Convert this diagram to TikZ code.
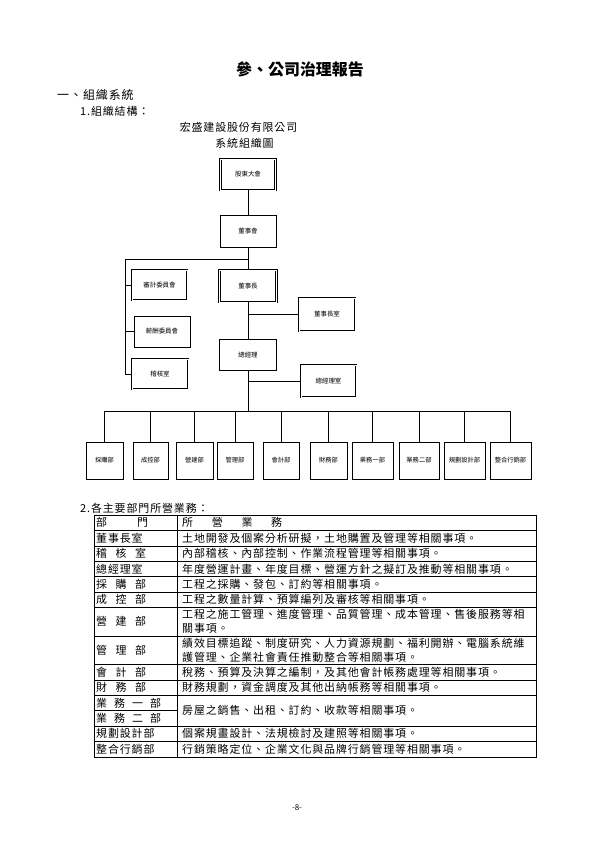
\documentclass[tikz,border=0pt]{standalone}
\usepackage{fontspec}
\setmainfont{Noto Sans CJK TC}
\newfontfamily\cellfont[LetterSpace=8]{Noto Sans CJK TC}
\begin{document}
\begin{tikzpicture}[x=1bp,y=-1bp,
  orgbox/.style={draw,line width=0.8pt,minimum height=31bp,inner sep=0pt,font=\fontsize{6.5}{7}\selectfont},
  dblbox/.style={orgbox,double,double distance=0.6pt,line width=0.75pt},
  unitbox/.style={draw,line width=0.7pt,minimum height=37bp,inner sep=0pt,font=\fontsize{6.3}{7}\selectfont},
  wire/.style={line width=0.7pt},
  txt/.style={inner sep=0pt,anchor=west,font=\cellfont\fontsize{11}{12}\selectfont},
  cell/.style={inner sep=0pt,anchor=west,font=\cellfont\fontsize{11}{12}\selectfont},
  tline/.style={line width=0.6pt}]
\path[use as bounding box,fill=white] (0,0) rectangle (595,842);

% headings
\node[inner sep=0pt,font=\bfseries\fontsize{16}{18}\selectfont] (title) at (300,69) {參、公司治理報告};
\node[txt,font=\cellfont\fontsize{12}{13}\selectfont] (h1) at (57,95) {一、組織系統};
\node[txt] (h2) at (80,111) {1.組織結構：};
\node[txt,anchor=center] (h3) at (238.5,127) {宏盛建設股份有限公司};
\node[txt,anchor=center] (h4) at (244.5,143) {系統組織圖};

% upper org chart
\node[dblbox,minimum width=55bp] (gd) at (248,174.5) {股東大會};
\node[orgbox,minimum width=56bp,minimum height=32bp] (bd) at (248,231) {董事會};
\node[dblbox,minimum width=55bp,minimum height=30bp] (ac) at (159.5,285) {審計委員會};
\node[orgbox,minimum width=56bp] (cc) at (162,331.5) {薪酬委員會};
\node[dblbox,minimum width=56bp,minimum height=30bp] (ia) at (160,374) {稽核室};
\node[dblbox,minimum width=57bp,minimum height=32bp] (ch) at (248,286) {董事長};
\node[dblbox,minimum width=56bp,minimum height=33bp] (cho) at (327,314.5) {董事長室};
\node[orgbox,minimum width=57bp] (gm) at (248,354.5) {總經理};
\node[dblbox,minimum width=55bp,minimum height=32bp] (gmo) at (328.5,381) {總經理室};

\coordinate (lt) at (248,259);
\coordinate (lb) at (125,259);
\coordinate (bus) at (248,411);

\draw[wire] (gd) -- (bd);
\draw[wire] (bd) -- (ch);
\draw[wire] (lt) -- (lb) |- (ia.west);
\draw[wire] (lb |- ac.west) -- (ac.west);
\draw[wire] (lb |- cc.west) -- (cc.west);
\draw[wire] (ch) -- (gm);
\draw[wire] (ch.south |- cho.west) -- (cho.west);
\draw[wire] (gm) -- (bus);
\draw[wire] (gm.south |- gmo.west) -- (gmo.west);

% lower units
\node[unitbox,minimum width=37bp] (u1) at (104.5,460.5) {採購部};
\node[unitbox,minimum width=35bp] (u2) at (150.5,460.5) {成控部};
\node[unitbox,minimum width=37bp] (u3) at (194.5,460.5) {營建部};
\node[unitbox,minimum width=36bp] (u4) at (235,460.5) {管理部};
\node[unitbox,minimum width=36bp] (u5) at (281,460.5) {會計部};
\node[unitbox,minimum width=37bp] (u6) at (328.5,460.5) {財務部};
\node[unitbox,minimum width=41bp] (u7) at (372.5,460.5) {業務一部};
\node[unitbox,minimum width=40bp] (u8) at (419,460.5) {業務二部};
\node[unitbox,minimum width=41bp] (u9) at (464.5,460.5) {規劃設計部};
\node[unitbox,minimum width=41bp] (u10) at (510.5,460.5) {整合行銷部};

\draw[wire] (u1.north |- bus) -- (u10.north |- bus);
\foreach \i in {1,...,10} \draw[wire] (u\i.north |- bus) -- (u\i.north);

% table
\node[txt] (h5) at (80,508) {2.各主要部門所營業務：};
\draw[tline] (94,515) rectangle (536,756.8);
\draw[tline] (177,515) -- (177,756.8);
\foreach \y in {530.4,545.8,561.2,576.6,592,607.4,635.9,664.4,679.8,695.2,726,741.4}
  \draw[tline] (94,\y) -- (536,\y);
\draw[tline] (94,710.6) -- (177,710.6);

\node[cell] (c0) at (96,522.7) {\makebox[52bp][s]{部\hfill 門}};
\node[cell] (d0) at (182,522.7) {\makebox[100bp][s]{所\hfill 營\hfill 業\hfill 務}};

\node[cell] (c1) at (96,538.1) {董事長室};
\node[cell] (d1) at (182,538.1) {土地開發及個案分析研擬，土地購置及管理等相關事項。};
\node[cell] (c2) at (96,553.5) {\makebox[50bp][s]{稽\hfill 核\hfill 室}};
\node[cell] (d2) at (182,553.5) {內部稽核、內部控制、作業流程管理等相關事項。};
\node[cell] (c3) at (96,568.9) {總經理室};
\node[cell] (d3) at (182,568.9) {年度營運計畫、年度目標、營運方針之擬訂及推動等相關事項。};
\node[cell] (c4) at (96,584.3) {\makebox[50bp][s]{採\hfill 購\hfill 部}};
\node[cell] (d4) at (182,584.3) {工程之採購、發包、訂約等相關事項。};
\node[cell] (c5) at (96,599.7) {\makebox[50bp][s]{成\hfill 控\hfill 部}};
\node[cell] (d5) at (182,599.7) {工程之數量計算、預算編列及審核等相關事項。};
\node[cell] (c6) at (96,621.6) {\makebox[50bp][s]{營\hfill 建\hfill 部}};
\node[cell] (d6a) at (182,614.5) {工程之施工管理、進度管理、品質管理、成本管理、售後服務等相};
\node[cell] (d6b) at (182,628.6) {關事項。};
\node[cell] (c7) at (96,650.1) {\makebox[50bp][s]{管\hfill 理\hfill 部}};
\node[cell] (d7a) at (182,643) {績效目標追蹤、制度研究、人力資源規劃、福利開辦、電腦系統維};
\node[cell] (d7b) at (182,657.2) {護管理、企業社會責任推動整合等相關事項。};
\node[cell] (c8) at (96,672.1) {\makebox[50bp][s]{會\hfill 計\hfill 部}};
\node[cell] (d8) at (182,672.1) {稅務、預算及決算之編制，及其他會計帳務處理等相關事項。};
\node[cell] (c9) at (96,687.5) {\makebox[50bp][s]{財\hfill 務\hfill 部}};
\node[cell] (d9) at (182,687.5) {財務規劃，資金調度及其他出納帳務等相關事項。};
\node[cell] (c10) at (96,702.9) {\makebox[65bp][s]{業\hfill 務\hfill 一\hfill 部}};
\node[cell] (c11) at (96,718.3) {\makebox[65bp][s]{業\hfill 務\hfill 二\hfill 部}};
\node[cell] (d10) at (182,710.6) {房屋之銷售、出租、訂約、收款等相關事項。};
\node[cell] (c12) at (96,733.7) {規劃設計部};
\node[cell] (d12) at (182,733.7) {個案規畫設計、法規檢討及建照等相關事項。};
\node[cell] (c13) at (96,749.1) {整合行銷部};
\node[cell] (d13) at (182,749.1) {行銷策略定位、企業文化與品牌行銷管理等相關事項。};

\node[inner sep=0pt,font=\fontsize{8}{9}\selectfont] (pg) at (297,808) {-8-};
\end{tikzpicture}
\end{document}
